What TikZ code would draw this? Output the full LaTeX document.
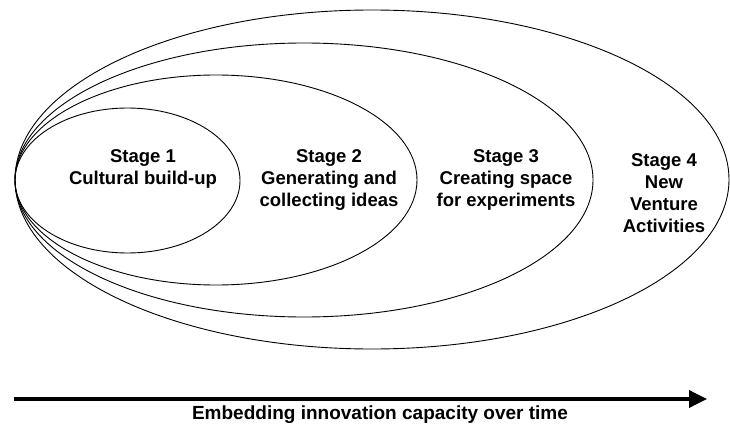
\documentclass[tikz,border=0pt]{standalone}
\usepackage{fontspec}
\setmainfont{Liberation Sans}
\usetikzlibrary{arrows.meta}
\tikzset{
stage/.style={align=center, font=\bfseries\fontsize{18.5}{22}\selectfont, inner sep=0pt},
ring/.style={line width=0.9pt}
}

\begin{document}
\begin{tikzpicture}[x=1pt, y=1pt]
  \useasboundingbox (0,0) rectangle (730,-425);
  % nested stages, all touching at the left
  \draw[ring] (127.5,-180.5) ellipse [x radius=112.5, y radius=72.5];
  \draw[ring] (216,-180) ellipse [x radius=201, y radius=105];
  \draw[ring] (304,-180) ellipse [x radius=289, y radius=137];
  \draw[ring] (372,-179.5) ellipse [x radius=357, y radius=169.5];

  \node[stage] (s1) at (143,-169) {Stage 1\\Cultural build-up};
  \node[stage] (s2) at (329,-180) {Stage 2\\Generating and\\collecting ideas};
  \node[stage] (s3) at (506,-180) {Stage 3\\Creating space\\for experiments};
  \node[stage] (s4) at (664,-193) {Stage 4\\New\\Venture\\Activities};

  \coordinate (start) at (14,-399);
  \coordinate (end) at (707,-399);
  \draw[line width=3.5pt, -{Triangle[length=18pt, width=17pt]}] (start) -- (end);
  \node[stage, font=\bfseries\fontsize{19}{22}\selectfont] (time) at (380,-415) {Embedding innovation capacity over time};

\end{tikzpicture}
\end{document}
